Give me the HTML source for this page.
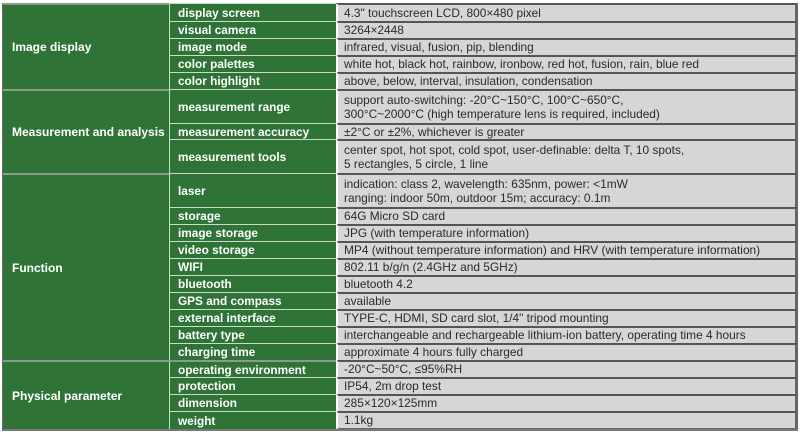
<!DOCTYPE html><html><head><meta charset="utf-8"><style>
body{margin:0;width:800px;height:432px;background:#fff;position:relative;overflow:hidden;font-family:"Liberation Sans",Arial,sans-serif}
.g,.c,.v{position:absolute;box-sizing:border-box;display:flex;align-items:center;white-space:nowrap}
.g{left:3px;width:166px;background:#2f7436;color:#fff;font-weight:bold;font-size:12px;padding-left:9px;border-top:2px solid #8a9a8a}
.c{left:169px;width:167px;background:#2f7436;color:#fff;font-weight:bold;font-size:11.8px;padding-left:8px;border-top:1px solid #c8dcc8;border-left:1px solid #c8dcc8}
.v{left:337px;width:460px;background:#d6d6d6;color:#2a2a2a;font-size:11.9px;padding-left:6px;border-top:2px solid #555;border-right:2px solid #666;border-left:1px solid #fff;line-height:14.5px}
</style></head><body>
<div style="position:absolute;left:2px;top:3px;width:796px;height:427px;border:1px solid #666;box-sizing:border-box"></div>
<div class="g" style="top:3px;height:86px">Image display</div>
<div class="g" style="top:89px;height:84px">Measurement and analysis</div>
<div class="g" style="top:173px;height:187px">Function</div>
<div class="g" style="top:360px;height:70px">Physical parameter</div>

<div class="c" style="top:3px;height:18px">display screen</div><div class="v" style="top:3px;height:18px">4.3" touchscreen LCD, 800×480 pixel</div>
<div class="c" style="top:21px;height:17px">visual camera</div><div class="v" style="top:21px;height:17px">3264×2448</div>
<div class="c" style="top:38px;height:17px">image mode</div><div class="v" style="top:38px;height:17px">infrared, visual, fusion, pip, blending</div>
<div class="c" style="top:55px;height:17px">color palettes</div><div class="v" style="top:55px;height:17px">white hot, black hot, rainbow, ironbow, red hot, fusion, rain, blue red</div>
<div class="c" style="top:72px;height:17px">color highlight</div><div class="v" style="top:72px;height:17px">above, below, interval, insulation, condensation</div>
<div class="c" style="top:89px;height:34px">measurement range</div><div class="v" style="top:89px;height:34px">support auto-switching: -20°C~150°C, 100°C~650°C,<br>300°C~2000°C (high temperature lens is required, included)</div>
<div class="c" style="top:123px;height:16px">measurement accuracy</div><div class="v" style="top:123px;height:16px">±2°C or ±2%, whichever is greater</div>
<div class="c" style="top:139px;height:34px">measurement tools</div><div class="v" style="top:139px;height:34px">center spot, hot spot, cold spot, user-definable: delta T, 10 spots,<br>5 rectangles, 5 circle, 1 line</div>
<div class="c" style="top:173px;height:34px">laser</div><div class="v" style="top:173px;height:34px">indication: class 2, wavelength: 635nm, power: &lt;1mW<br>ranging: indoor 50m, outdoor 15m; accuracy: 0.1m</div>
<div class="c" style="top:207px;height:17px">storage</div><div class="v" style="top:207px;height:17px">64G Micro SD card</div>
<div class="c" style="top:224px;height:17px">image storage</div><div class="v" style="top:224px;height:17px">JPG (with temperature information)</div>
<div class="c" style="top:241px;height:17px">video storage</div><div class="v" style="top:241px;height:17px">MP4 (without temperature information) and HRV (with temperature information)</div>
<div class="c" style="top:258px;height:17px">WIFI</div><div class="v" style="top:258px;height:17px">802.11 b/g/n (2.4GHz and 5GHz)</div>
<div class="c" style="top:275px;height:17px">bluetooth</div><div class="v" style="top:275px;height:17px">bluetooth 4.2</div>
<div class="c" style="top:292px;height:17px">GPS and compass</div><div class="v" style="top:292px;height:17px">available</div>
<div class="c" style="top:309px;height:17px">external interface</div><div class="v" style="top:309px;height:17px">TYPE-C, HDMI, SD card slot, 1/4" tripod mounting</div>
<div class="c" style="top:326px;height:17px">battery type</div><div class="v" style="top:326px;height:17px">interchangeable and rechargeable lithium-ion battery, operating time 4 hours</div>
<div class="c" style="top:343px;height:17px">charging time</div><div class="v" style="top:343px;height:17px">approximate 4 hours fully charged</div>
<div class="c" style="top:360px;height:17px;border-top:2px solid #8a9a8a">operating environment</div><div class="v" style="top:360px;height:17px">-20°C~50°C, ≤95%RH</div>
<div class="c" style="top:377px;height:17px">protection</div><div class="v" style="top:377px;height:17px">IP54, 2m drop test</div>
<div class="c" style="top:394px;height:17px">dimension</div><div class="v" style="top:394px;height:17px">285×120×125mm</div>
<div class="c" style="top:411px;height:18px">weight</div><div class="v" style="top:411px;height:18px;border-bottom:1px solid #666">1.1kg</div>
<div style="position:absolute;left:2px;top:429px;width:796px;height:2px;background:#777"></div>
</body></html>
